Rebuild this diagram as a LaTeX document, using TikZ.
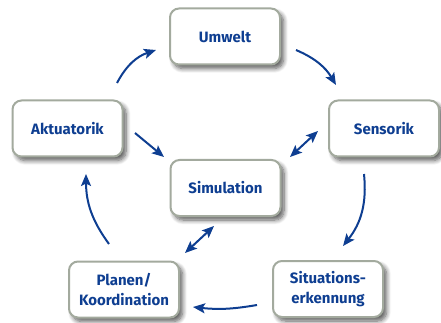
\documentclass[tikz,border=0pt]{standalone}
\usepackage{fontspec}
\setmainfont{Fira Sans}
\usetikzlibrary{arrows.meta,shadows.blur,positioning}
\definecolor{boxline}{RGB}{163,170,158}
\definecolor{txtblue}{RGB}{14,62,145}
\begin{document}
\begin{tikzpicture}[x=1pt,y=1pt,
  box/.style={draw=boxline,line width=2pt,rounded corners=9pt,fill=white,
    minimum width=110pt,minimum height=56pt,align=center,
    font=\fontsize{15}{20}\selectfont\bfseries,text=txtblue,
    blur shadow={shadow xshift=3.5pt,shadow yshift=-4pt,shadow blur steps=8,shadow blur radius=4.5pt,shadow opacity=65}},
  tip/.tip={Stealth[length=12pt,width=10pt,inset=2.5pt]},
  conn/.style={draw=txtblue,line width=2pt,-tip},
  dconn/.style={draw=txtblue,line width=2pt,tip-tip}]
\useasboundingbox (0,0) rectangle (441,-323);
\node[box] (umw) at (225,-36.5) {Umwelt};
\node[box] (sen) at (384,-128.5) {Sensorik};
\node[box] (sim) at (225.5,-188) {Simulation};
\node[box] (akt) at (67.5,-128.5) {Aktuatorik};
\node[box] (pla) at (124,-289.5) {Planen/\\Koordination};
\node[box] (sit) at (328,-289) {Situations-\\erkennung};
% connector end points
\coordinate (a1) at (117,-83);  \coordinate (a2) at (156,-50);
\coordinate (b1) at (296,-50);  \coordinate (b2) at (336,-85);
\coordinate (c1) at (364,-174); \coordinate (c2) at (343,-246);
\coordinate (d1) at (257,-305); \coordinate (d2) at (193,-307);
\coordinate (e1) at (109,-244); \coordinate (e2) at (86,-174);
\coordinate (f1) at (135,-133); \coordinate (f2) at (164,-157);
\coordinate (g1) at (290,-157); \coordinate (g2) at (318,-131);
\coordinate (h1) at (185,-253); \coordinate (h2) at (214,-226);
\draw[conn] (a1) to[bend left=22] (a2);
\draw[conn] (b1) to[bend left=18] (b2);
\draw[conn] (c1) to[bend left=22] (c2);
\draw[conn] (d1) to[bend left=8] (d2);
\draw[conn] (e1) to[bend left=18] (e2);
\draw[conn] (f1) -- (f2);
\draw[dconn] (g1) -- (g2);
\draw[dconn] (h1) -- (h2);
\end{tikzpicture}
\end{document}
